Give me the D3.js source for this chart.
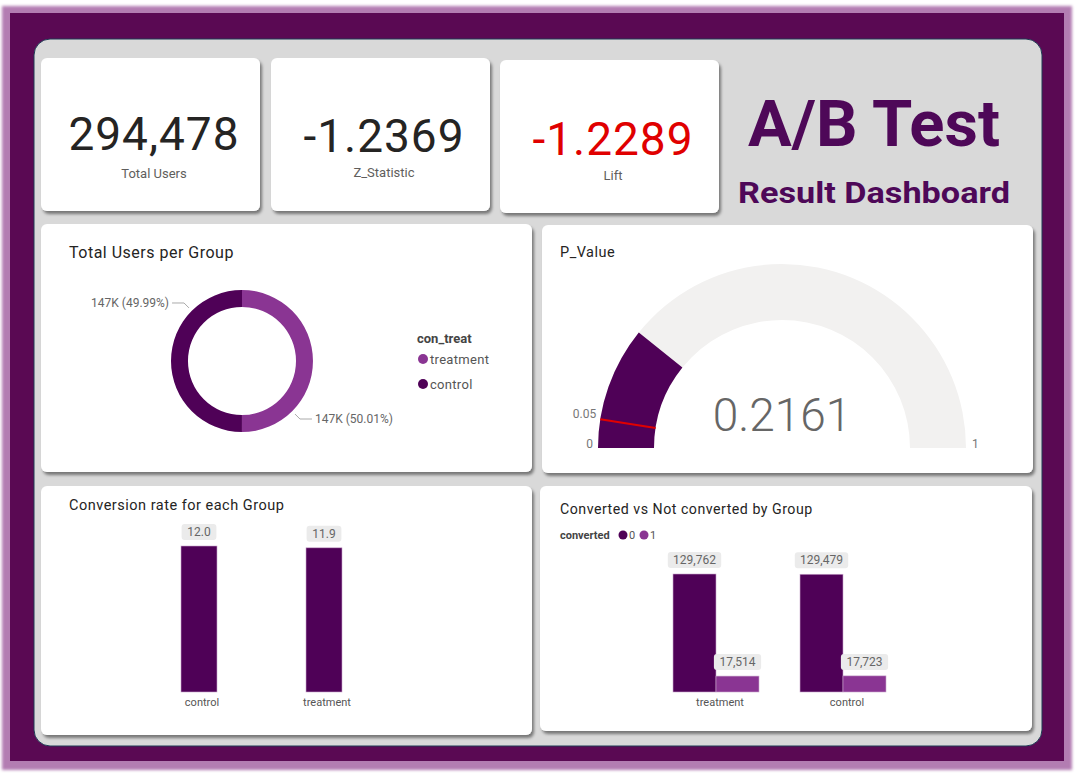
<!DOCTYPE html>
<html>
<head>
<meta charset="utf-8">
<script src="https://cdn.jsdelivr.net/npm/d3@7"></script>
<style>
  body { margin: 0; background: #fff; }
  svg { display: block; }
  text { font-family: Roboto, "Noto Sans", sans-serif; }
</style>
</head>
<body>
<div id="container"></div>
<script>
// KPI values
const kpiValues = [294478, -1.2369, -1.2289];
const kpiLabels = ["Total Users", "Z_Statistic", "Lift"];

// users per group (donut)
const groups = ["treatment", "control"];
const groupUsers = [147276, 147202];

// p-value gauge
const pValue = 0.2161;
const pTarget = 0.05;
const gaugeMin = 0, gaugeMax = 1;

// conversion rate (%)
const rateGroups = ["control", "treatment"];
const rateValues = [12.04, 11.89];

// converted vs not converted
const convGroups = ["treatment", "control"];
const convKeys = ["0", "1"];
const notConverted = [129762, 129479];
const converted = [17514, 17723];

const dark = "#4f0157", light = "#8a3593";

const W = 1077, H = 773;
const svg = d3.select("#container").append("svg")
  .attr("width", W).attr("height", H);

const defs = svg.append("defs");
const sh = defs.append("filter").attr("id", "shadow")
  .attr("x", "-5%").attr("y", "-5%").attr("width", "115%").attr("height", "120%");
sh.append("feDropShadow").attr("dx", 2).attr("dy", 3).attr("stdDeviation", 1.6)
  .attr("flood-color", "#000").attr("flood-opacity", 0.45);
const glow = defs.append("filter").attr("id", "glow")
  .attr("x", "-5%").attr("y", "-5%").attr("width", "110%").attr("height", "110%");
glow.append("feGaussianBlur").attr("stdDeviation", 1.5);

// frame
svg.append("rect").attr("x", 2).attr("y", 6).attr("width", 1070).attr("height", 764)
  .attr("fill", "#b37db2").attr("filter", "url(#glow)");
svg.append("rect").attr("x", 10).attr("y", 13).attr("width", 1054).attr("height", 748)
  .attr("fill", "#5a0953");
svg.append("rect").attr("x", 34).attr("y", 39).attr("width", 1008).attr("height", 707)
  .attr("rx", 16).attr("fill", "#d9d9d9").attr("stroke", "#1f3b55").attr("stroke-width", 1);

function card(x, y, w, h) {
  svg.append("rect").attr("x", x).attr("y", y).attr("width", w).attr("height", h)
    .attr("rx", 6).attr("fill", "#fff").attr("filter", "url(#shadow)");
}

// KPI cards
const kpiX = [41, 271, 500];
const kpiFmt = [d3.format(","), d3.format(".4f"), d3.format(".4f")];
const kpiColor = ["#252423", "#252423", "#e00000"];
const kpiBase = [150, 152, 155];
const kpiLabelBase = [178, 177, 180];
kpiValues.forEach((v, i) => {
  card(kpiX[i], i == 2 ? 60 : 58, 219, 153);
  const cx = kpiX[i] + 113;
  svg.append("text").attr("x", cx).attr("y", kpiBase[i])
    .attr("text-anchor", "middle").attr("font-size", 46).attr("letter-spacing", 1)
    .attr("fill", kpiColor[i])
    .text(kpiFmt[i](v).replace("−", "-"));
  svg.append("text").attr("x", cx).attr("y", kpiLabelBase[i])
    .attr("text-anchor", "middle").attr("font-size", 13).attr("fill", "#605e5c")
    .text(kpiLabels[i]);
});

// dashboard title
svg.append("text").attr("x", 874).attr("y", 146).attr("text-anchor", "middle")
  .attr("font-weight", 700).attr("font-size", 64).attr("fill", "#4e0858")
  .attr("textLength", 252).attr("lengthAdjust", "spacingAndGlyphs").text("A/B Test");
svg.append("text").attr("x", 874).attr("y", 203).attr("text-anchor", "middle")
  .attr("font-weight", 700).attr("font-size", 30).attr("fill", "#4e0858")
  .attr("textLength", 272).attr("lengthAdjust", "spacingAndGlyphs").text("Result Dashboard");

function title(x, y, t, size) {
  svg.append("text").attr("x", x).attr("y", y).attr("font-size", size)
    .attr("letter-spacing", 0.5).attr("fill", "#252423").text(t);
}

// ---- donut ----
card(41, 224, 491, 248);
title(69, 258, "Total Users per Group", 16);
const dg = svg.append("g").attr("transform", "translate(242,361)");
const pie = d3.pie().sort(null).value(d => d.v);
const pieData = pie(groups.map((g, i) => ({g: g, v: groupUsers[i]})));
const color = d3.scaleOrdinal().domain(groups).range([light, dark]);
const arc = d3.arc().innerRadius(54).outerRadius(71);
dg.selectAll("path").data(pieData).enter().append("path")
  .attr("d", arc).attr("fill", d => color(d.data.g));

const total = d3.sum(groupUsers);
const pct = d3.format(".2%");
pieData.forEach(d => {
  const a = (d.startAngle + d.endAngle) / 2 + Math.PI / 4;
  const p0 = [75 * Math.sin(a), -75 * Math.cos(a)];
  const p1 = [82 * Math.sin(a), -82 * Math.cos(a)];
  const side = Math.sin(a) > 0 ? 1 : -1;
  const p2 = [p1[0] + side * 12, p1[1]];
  dg.append("polyline").attr("points", [p0, p1, p2].map(p => p.join(",")).join(" "))
    .attr("fill", "none").attr("stroke", "#aaa").attr("stroke-width", 1);
  dg.append("text").attr("x", p2[0] + side * 3).attr("y", p2[1] + 4)
    .attr("text-anchor", side > 0 ? "start" : "end")
    .attr("font-size", 12).attr("fill", "#666")
    .text(Math.round(d.data.v / 1000) + "K (" + pct(d.data.v / total) + ")");
});

svg.append("text").attr("x", 417).attr("y", 343).attr("font-size", 13)
  .attr("font-weight", 700).attr("fill", "#444").text("con_treat");
groups.forEach((g, i) => {
  const y = 359 + i * 25;
  svg.append("circle").attr("cx", 423).attr("cy", y).attr("r", 5).attr("fill", color(g));
  svg.append("text").attr("x", 430).attr("y", y + 5).attr("font-size", 13)
    .attr("fill", "#555").attr("letter-spacing", 0.3).text(g);
});

// ---- gauge ----
card(542, 225, 491, 248);
title(560, 257, "P_Value", 14.5);
const gg = svg.append("g").attr("transform", "translate(782,448)");
const ang = d3.scaleLinear().domain([gaugeMin, gaugeMax]).range([-Math.PI / 2, Math.PI / 2]);
const garc = d3.arc().innerRadius(128).outerRadius(184);
gg.append("path").attr("d", garc({startAngle: ang(gaugeMin), endAngle: ang(gaugeMax)}))
  .attr("fill", "#f2f1f0");
gg.append("path").attr("d", garc({startAngle: ang(gaugeMin), endAngle: ang(pValue)}))
  .attr("fill", dark);
const ta = ang(pTarget);
gg.append("line")
  .attr("x1", 128 * Math.sin(ta)).attr("y1", -128 * Math.cos(ta))
  .attr("x2", 184 * Math.sin(ta)).attr("y2", -184 * Math.cos(ta))
  .attr("stroke", "#e00000").attr("stroke-width", 2);
gg.append("text").attr("x", 0).attr("y", -17).attr("text-anchor", "middle")
  .attr("font-size", 46).attr("font-weight", 300).attr("fill", "#666").text(pValue);
gg.append("text").attr("x", -189).attr("y", 0).attr("text-anchor", "end")
  .attr("font-size", 12).attr("fill", "#777").text(gaugeMin);
gg.append("text").attr("x", 184 * Math.sin(ta) - 4).attr("y", -184 * Math.cos(ta) - 1)
  .attr("text-anchor", "end").attr("font-size", 12).attr("fill", "#777").text(pTarget);
gg.append("text").attr("x", 190).attr("y", 0)
  .attr("font-size", 12).attr("fill", "#777").text(gaugeMax);

function valueLabel(g, cx, y, t) {
  const w = t.length * 6.2 + 10;
  g.append("rect").attr("x", cx - w / 2).attr("y", y - 16).attr("width", w).attr("height", 16)
    .attr("rx", 3).attr("fill", "#ebebeb");
  g.append("text").attr("x", cx).attr("y", y - 4).attr("text-anchor", "middle")
    .attr("font-size", 12).attr("fill", "#666").text(t);
}

// ---- conversion rate ----
card(41, 486, 491, 249);
title(69, 510, "Conversion rate for each Group", 14.5);
const rg = svg.append("g");
const rx = d3.scaleBand().domain(rateGroups).range([136.5, 386.5])
  .paddingInner(0.712).paddingOuter(0.356);
const ry = d3.scaleLinear().domain([0, d3.max(rateValues)]).range([692, 546]);
rg.selectAll("rect").data(rateGroups).enter().append("rect")
  .attr("x", d => rx(d)).attr("y", (d, i) => ry(rateValues[i]))
  .attr("width", rx.bandwidth()).attr("height", (d, i) => ry(0) - ry(rateValues[i]))
  .attr("fill", dark).attr("stroke", "#c9a6cc").attr("stroke-width", 0.6);
rateGroups.forEach((g, i) => {
  const cx = rx(g) + rx.bandwidth() / 2;
  valueLabel(rg, cx, ry(rateValues[i]) - 6, d3.format(".1f")(rateValues[i]));
});
const rAxis = rg.append("g").attr("transform", "translate(3,692)")
  .call(d3.axisBottom(rx).tickSize(0).tickPadding(6));
rAxis.select(".domain").remove();
rAxis.selectAll("text").attr("font-size", 11).attr("fill", "#555")
  .attr("font-family", "Roboto, sans-serif");

// ---- converted vs not ----
card(540, 486, 492, 245);
title(560, 514, "Converted vs Not converted by Group", 14.2);
svg.append("text").attr("x", 560).attr("y", 539).attr("font-size", 11)
  .attr("font-weight", 700).attr("fill", "#444").text("converted");
const kColor = d3.scaleOrdinal().domain(convKeys).range([dark, light]);
convKeys.forEach((k, i) => {
  const x = 623 + i * 21;
  svg.append("circle").attr("cx", x).attr("cy", 535).attr("r", 4.5).attr("fill", kColor(k));
  svg.append("text").attr("x", x + 6).attr("y", 539).attr("font-size", 11)
    .attr("fill", "#555").text(k);
});
const cg = svg.append("g");
const x0 = d3.scaleBand().domain(convGroups).range([652.5, 906.5])
  .paddingInner(0.323).paddingOuter(0.1615);
const x1 = d3.scaleBand().domain(convKeys).range([0, x0.bandwidth()]);
const cy = d3.scaleLinear().domain([0, d3.max(notConverted)]).range([692, 574]);
const convData = [];
convGroups.forEach((g, i) => {
  convData.push({g: g, k: "0", v: notConverted[i]});
  convData.push({g: g, k: "1", v: converted[i]});
});
cg.selectAll("rect").data(convData).enter().append("rect")
  .attr("x", d => x0(d.g) + x1(d.k)).attr("y", d => cy(d.v))
  .attr("width", x1.bandwidth()).attr("height", d => cy(0) - cy(d.v))
  .attr("fill", d => kColor(d.k)).attr("stroke", "#c9a6cc").attr("stroke-width", 0.6);
convData.forEach(d => {
  valueLabel(cg, x0(d.g) + x1(d.k) + x1.bandwidth() / 2, cy(d.v) - 6, d3.format(",")(d.v));
});
const cAxis = cg.append("g").attr("transform", "translate(4,692)")
  .call(d3.axisBottom(x0).tickSize(0).tickPadding(6));
cAxis.select(".domain").remove();
cAxis.selectAll("text").attr("font-size", 11).attr("fill", "#555")
  .attr("font-family", "Roboto, sans-serif");
</script>
</body>
</html>
